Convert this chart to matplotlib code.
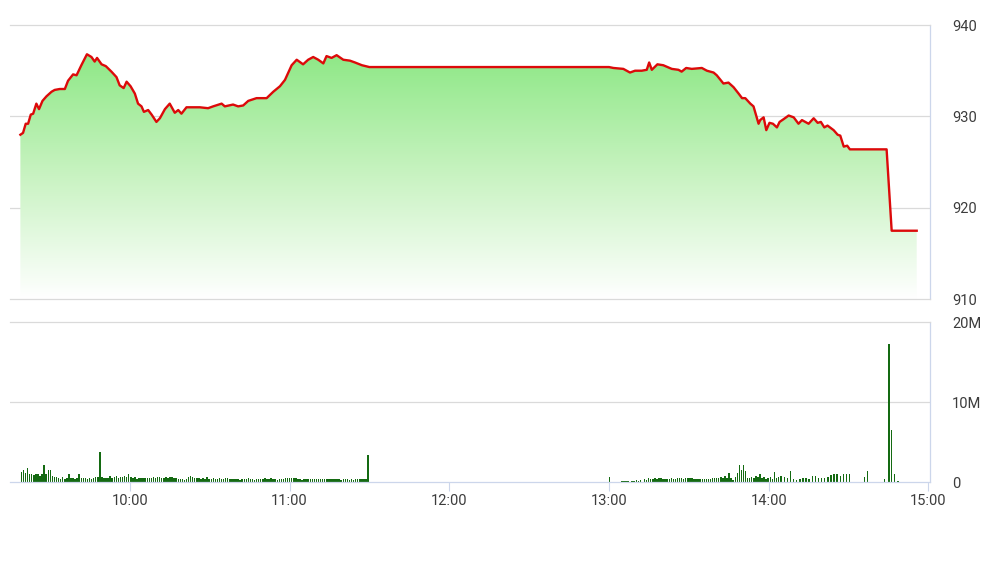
import numpy as np
import matplotlib
matplotlib.use("Agg")
import matplotlib.pyplot as plt
from matplotlib.colors import LinearSegmentedColormap

plt.rcParams['font.family'] = ['Roboto', 'DejaVu Sans']

# time axis: minutes after 09:00
tick_minutes = [60, 120, 180, 240, 300, 360]
tick_labels = ["10:00", "11:00", "12:00", "13:00", "14:00", "15:00"]

# index level
price_t = [18.9, 19.9, 20.9, 21.8, 22.8, 23.7, 24.9, 25.9, 27.2, 28.7, 30.6, 31.8, 33.7, 35.6,
           36.8, 38.7, 40.0, 41.8, 43.9, 45.6, 46.8, 47.7, 49.4, 51.0, 53.1, 55.0, 56.2, 57.7,
           58.8, 60.3, 61.9, 63.1, 64.4, 65.3, 66.9, 68.2, 70.0, 71.3, 73.2, 75.0, 76.9, 78.2,
           79.4, 81.3, 83.8, 86.3, 89.4, 91.3, 94.5, 95.7, 98.8, 100.7, 102.6, 104.5, 107.6,
           111.4, 113.9, 116.4, 118.3, 120.8, 122.7, 125.1, 127.0, 128.9, 130.8, 132.7, 133.9,
           135.8, 137.7, 140.2, 142.7, 144.6, 147.2, 150.0,
           240.0, 241.7, 245.4, 247.9, 249.8, 252.3, 254.2, 255.1, 256.1, 258.2, 260.4, 263.6,
           266.1, 267.3, 269.0, 271.1, 274.9, 276.8, 279.3, 280.5, 283.0, 284.9, 286.8, 288.7,
           290.0, 291.2, 293.1, 294.3, 296.2, 296.8, 298.1, 299.1, 300.3, 301.6, 303.1, 304.1,
           305.6, 307.5, 309.4, 311.2, 312.5, 315.0, 316.9, 318.4, 319.6, 320.9, 322.1, 324.4,
           325.9, 326.9, 328.2, 329.5, 330.5, 344.3, 346.2, 355.6]
price_v = [928.0, 928.2, 929.2, 929.2, 930.2, 930.3, 931.4, 930.8, 931.7, 932.2, 932.7, 932.9,
           933.0, 933.0, 933.9, 934.6, 934.5, 935.6, 936.8, 936.5, 936.0, 936.4, 935.7, 935.5,
           934.9, 934.3, 933.4, 933.1, 933.8, 933.3, 932.5, 931.4, 931.1, 930.5, 930.7, 930.2,
           929.4, 929.8, 930.8, 931.4, 930.4, 930.7, 930.3, 931.0, 931.0, 931.0, 930.9, 931.1,
           931.4, 931.1, 931.3, 931.1, 931.2, 931.7, 932.0, 932.0, 932.7, 933.3, 934.0, 935.6,
           936.2, 935.7, 936.2, 936.5, 936.2, 935.8, 936.6, 936.4, 936.7, 936.2, 936.1, 935.9,
           935.6, 935.4,
           935.4, 935.3, 935.2, 934.8, 935.0, 935.0, 935.1, 935.9, 935.1, 935.7, 935.6, 935.2,
           935.1, 934.9, 935.3, 935.2, 935.3, 935.0, 934.8, 934.5, 933.6, 933.7, 933.2, 932.5,
           932.0, 932.0, 931.4, 931.1, 929.2, 929.6, 929.9, 928.5, 929.3, 929.2, 928.8, 929.4,
           929.7, 930.1, 929.9, 929.2, 929.6, 929.2, 929.8, 929.3, 929.4, 928.8, 929.0, 928.5,
           928.0, 927.9, 926.7, 926.8, 926.4, 926.4, 917.5, 917.5]

# volume (millions), morning session 09:19 - 11:30
vol_am_span = (19.3, 149.5)
vol_am = [1.3, 1.5, 1.2, 1.75, 1.0, 1.1, 0.9, 1.0, 1.1, 0.8,
          1.1, 2.2, 1.0, 1.5, 1.5, 0.8, 0.7, 0.7, 0.6, 0.4,
          0.7, 0.4, 0.6, 1.0, 0.55, 0.6, 0.4, 0.6, 1.0, 0.6,
          0.5, 0.6, 0.4, 0.6, 0.4, 0.6, 0.7, 0.7, 3.8, 0.7,
          0.5, 0.5, 0.6, 0.8, 0.6, 0.7, 0.75, 0.55, 0.7, 0.7,
          0.8, 0.7, 1.0, 0.7, 0.6, 0.7, 0.4, 0.6, 0.55, 0.5,
          0.55, 0.5, 0.5, 0.6, 0.7, 0.6, 0.7, 0.7, 0.6, 0.6,
          0.7, 0.6, 0.7, 0.7, 0.6, 0.5, 0.45, 0.4, 0.4, 0.3,
          0.45, 0.7, 0.8, 0.7, 0.6, 0.6, 0.5, 0.4, 0.5, 0.4, 0.7,
          0.4, 0.4, 0.5, 0.45, 0.4, 0.6, 0.4, 0.4, 0.6, 0.5,
          0.4, 0.4, 0.45, 0.4, 0.4, 0.3, 0.4, 0.4, 0.4, 0.5,
          0.4, 0.4, 0.3, 0.4, 0.4, 0.4, 0.45, 0.5, 0.45, 0.45,
          0.5, 0.4, 0.4, 0.3, 0.4, 0.45, 0.4, 0.5, 0.6, 0.5,
          0.6, 0.6, 0.5, 0.45, 0.4, 0.3, 0.45, 0.4, 0.45, 0.4,
          0.4, 0.4, 0.4, 0.4, 0.4, 0.4, 0.4, 0.4, 0.4, 0.45,
          0.4, 0.4, 0.4, 0.4, 0.3, 0.45, 0.4, 0.4, 0.35, 0.4,
          0.35, 0.4, 0.4, 0.4, 0.45, 0.4, 0.4, 3.4]
# afternoon 13:00 - 14:04
vol_pm1_span = (240.2, 303.7)
vol_pm1 = [0.7, 0.1, 0.1, 0.1, 0.1, 0.1, 0.15, 0.15, 0.2, 0.15,
           0.1, 0.15, 0.2, 0.25, 0.15, 0.3, 0.1, 0.4, 0.35, 0.5,
           0.4, 0.4, 0.5, 0.45, 0.55, 0.5, 0.4, 0.4, 0.4, 0.4,
           0.5, 0.45, 0.4, 0.5, 0.6, 0.6, 0.4, 0.5, 0.6, 0.55,
           0.6, 0.4, 0.4, 0.4, 0.4, 0.4, 0.45, 0.4, 0.45, 0.4,
           0.5, 0.5, 0.6, 0.6, 0.7, 0.5, 0.8, 0.6, 1.2, 0.6,
           0.3, 0.7, 1.2, 2.2, 1.5, 2.2, 1.4, 0.6, 0.5, 0.7,
           0.6, 0.8, 0.7, 1.1, 0.6, 0.7, 0.4, 0.6, 0.7, 0.4,
           1.3, 0.6, 0.7]
# afternoon 14:05 - 14:30
vol_pm2_span = (304.7, 330.4)
vol_pm2 = [0.8, 0.7, 0.5, 1.4, 0.4, 0.3, 0.4, 0.6, 0.5, 0.4, 0.8, 0.8,
           0.5, 0.5, 0.6, 0.7, 0.9, 1.1, 1.0, 0.8, 1.0, 1.0, 1.1]
# closing period
vol_close_t = [336.0, 337.2, 340.7, 343.4, 345.2, 346.2, 347.3, 348.6, 349.8, 351.0, 353.2, 355.1]
vol_close = [0.7, 1.4, 0.05, 0.4, 17.3, 6.5, 1.0, 0.2, 0.05, 0.05, 0.05, 0.05]

GRID = '#dadada'
AXIS = '#ccd6eb'
TXT = '#3c3c3c'
BAR = '#146a12'
XMIN, XMAX = 15.0, 360.6

fig = plt.figure(figsize=(9.98, 5.61), dpi=100)
ax1 = fig.add_axes([10 / 998, 1 - 299.3 / 561, 920 / 998, 274.3 / 561])
ax2 = fig.add_axes([10 / 998, 1 - 482.3 / 561, 920 / 998, 160 / 561])

# price panel: gradient area + red line
poly = ax1.fill_between(price_t, price_v, 910, color='none', lw=0)
cmap = LinearSegmentedColormap.from_list('fade', ['#ffffff', '#c9f3c2', '#8ee886'])
grad = np.linspace(0, 1, 256).reshape(-1, 1)
img = ax1.imshow(grad, extent=[min(price_t), max(price_t), 910, max(price_v)],
                 aspect='auto', origin='lower', cmap=cmap, zorder=1)
img.set_clip_path(poly.get_paths()[0], transform=ax1.transData)
ax1.plot(price_t, price_v, color='#dc0a0a', lw=1.7, zorder=3)

ax1.set_xlim(XMIN, XMAX)
ax1.set_ylim(910, 940)
ax1.set_yticks([910, 920, 930, 940])
ax1.yaxis.tick_right()
ax1.tick_params(axis='y', length=0, pad=16, labelsize=10.5, labelcolor=TXT)
ax1.set_xticks([])
for y in (920, 930):
    ax1.axhline(y, color=GRID, lw=0.9, zorder=0)

# volume panel
for span, vals in ((vol_am_span, vol_am), (vol_pm1_span, vol_pm1), (vol_pm2_span, vol_pm2)):
    ts = np.linspace(span[0], span[1], len(vals))
    ax2.bar(ts, vals, width=0.55, color=BAR, lw=0, zorder=2)
ax2.bar(vol_close_t, vol_close, width=0.45, color=BAR, lw=0, zorder=2)

ax2.set_xlim(XMIN, XMAX)
ax2.set_ylim(0, 20)
ax2.set_yticks([0, 10, 20])
ax2.set_yticklabels(['0', '10M', '20M'])
ax2.yaxis.tick_right()
ax2.tick_params(axis='y', length=0, pad=16, labelsize=10.5, labelcolor=TXT)
ax2.axhline(10, color=GRID, lw=0.9, zorder=0)
ax2.set_xticks(tick_minutes)
ax2.set_xticklabels(tick_labels)
ax2.tick_params(axis='x', length=6.5, width=0.8, color=AXIS, pad=2, labelsize=10.5, labelcolor=TXT)

for ax in (ax1, ax2):
    ax.spines['left'].set_visible(False)
    ax.spines['top'].set_color(GRID)
    ax.spines['top'].set_linewidth(0.9)
    ax.spines['right'].set_color(AXIS)
    ax.spines['right'].set_linewidth(0.9)
ax1.spines['bottom'].set_color(GRID)
ax1.spines['bottom'].set_linewidth(0.9)
ax2.spines['bottom'].set_color(AXIS)
ax2.spines['bottom'].set_linewidth(0.9)

fig.savefig('out.png', dpi=100)
